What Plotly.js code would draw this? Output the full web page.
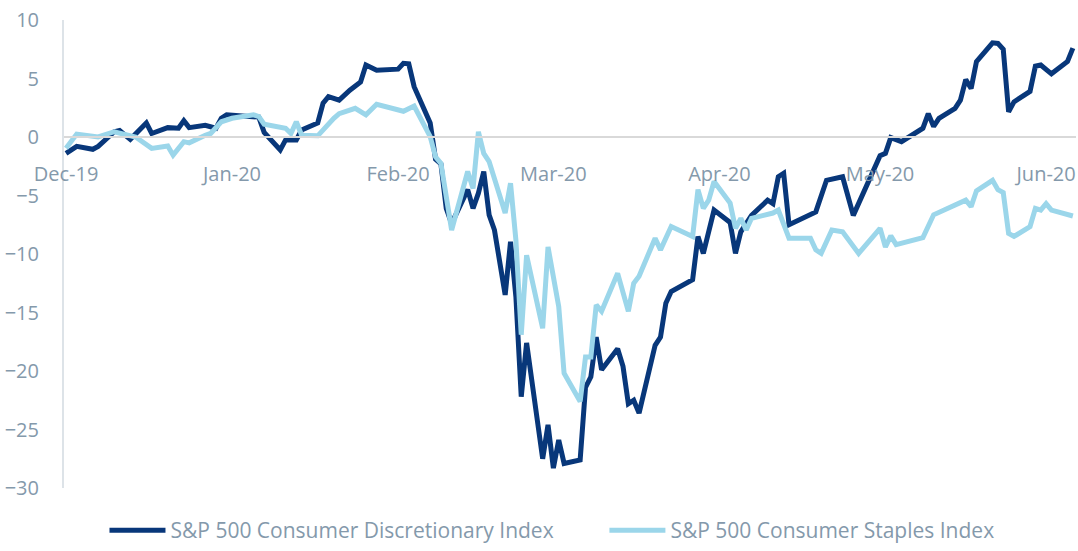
<!DOCTYPE html>
<html>
<head>
<meta charset="utf-8">
<script src="https://cdn.plot.ly/plotly-3.0.1.min.js"></script>
<style>html,body{margin:0;padding:0;background:#fff;}#chart{width:1078px;height:551px;}</style>
</head>
<body>
<div id="chart"></div>
<script>
// S&P 500 Consumer Discretionary Index (% change)
const discDates = ["2019-12-01","2019-12-03","2019-12-06","2019-12-07","2019-12-10","2019-12-11","2019-12-13","2019-12-16","2019-12-17","2019-12-20","2019-12-22","2019-12-23","2019-12-24","2019-12-27","2019-12-29","2019-12-30","2019-12-31","2020-01-04","2020-01-06","2020-01-07","2020-01-10","2020-01-11","2020-01-13","2020-01-14","2020-01-17","2020-01-18","2020-01-19","2020-01-21","2020-01-23","2020-01-25","2020-01-26","2020-01-28","2020-02-01","2020-02-02","2020-02-03","2020-02-04","2020-02-07","2020-02-08","2020-02-09","2020-02-10","2020-02-11","2020-02-14","2020-02-15","2020-02-16","2020-02-17","2020-02-18","2020-02-19","2020-02-21","2020-02-22","2020-02-23","2020-02-24","2020-02-25","2020-02-28","2020-02-29","2020-03-01","2020-03-02","2020-03-03","2020-03-06","2020-03-07","2020-03-08","2020-03-09","2020-03-10","2020-03-13","2020-03-14","2020-03-15","2020-03-16","2020-03-17","2020-03-20","2020-03-21","2020-03-22","2020-03-23","2020-03-27","2020-03-28","2020-03-29","2020-03-31","2020-04-03","2020-04-04","2020-04-05","2020-04-07","2020-04-10","2020-04-11","2020-04-12","2020-04-13","2020-04-14","2020-04-19","2020-04-21","2020-04-24","2020-04-26","2020-05-01","2020-05-02","2020-05-03","2020-05-05","2020-05-09","2020-05-10","2020-05-11","2020-05-12","2020-05-15","2020-05-16","2020-05-17","2020-05-18","2020-05-19","2020-05-22","2020-05-23","2020-05-24","2020-05-25","2020-05-26","2020-05-29","2020-05-30","2020-05-31","2020-06-02","2020-06-05","2020-06-06"];
const discValues = [-1.4,-0.8,-1.05,-0.8,0.45,0.55,-0.2,1.2,0.3,0.8,0.75,1.4,0.8,1.0,0.75,1.6,1.9,1.8,1.7,0.4,-1.1,-0.25,-0.25,0.6,1.2,2.9,3.45,3.15,4.0,4.7,6.15,5.7,5.8,6.3,6.25,4.3,1.2,-1.9,-2.3,-6.1,-7.4,-4.5,-6.1,-4.8,-2.95,-6.65,-7.95,-13.5,-8.95,-13.65,-22.2,-17.6,-27.5,-24.6,-28.3,-25.9,-27.9,-27.6,-21.4,-20.5,-17.1,-19.9,-18.1,-19.6,-22.8,-22.5,-23.6,-17.8,-17.1,-14.2,-13.2,-12.2,-8.5,-9.95,-6.25,-7.3,-9.95,-8.1,-6.7,-5.4,-5.7,-3.4,-3.1,-7.5,-6.4,-3.7,-3.4,-6.7,-1.6,-1.4,-0.05,-0.4,0.75,2.0,0.9,1.6,2.45,3.15,4.9,4.15,6.45,8.05,8.0,7.5,2.15,3.0,3.9,6.05,6.15,5.4,6.45,7.6];

// S&P 500 Consumer Staples Index (% change)
const stapDates = ["2019-12-01","2019-12-03","2019-12-07","2019-12-10","2019-12-14","2019-12-17","2019-12-20","2019-12-21","2019-12-23","2019-12-24","2019-12-27","2019-12-28","2019-12-30","2020-01-01","2020-01-05","2020-01-06","2020-01-07","2020-01-11","2020-01-12","2020-01-13","2020-01-14","2020-01-17","2020-01-20","2020-01-21","2020-01-24","2020-01-26","2020-01-28","2020-02-02","2020-02-04","2020-02-07","2020-02-08","2020-02-09","2020-02-11","2020-02-14","2020-02-15","2020-02-16","2020-02-17","2020-02-18","2020-02-21","2020-02-22","2020-02-23","2020-02-24","2020-02-25","2020-02-28","2020-02-29","2020-03-02","2020-03-03","2020-03-06","2020-03-07","2020-03-08","2020-03-09","2020-03-10","2020-03-13","2020-03-15","2020-03-16","2020-03-17","2020-03-20","2020-03-21","2020-03-23","2020-03-27","2020-03-28","2020-03-29","2020-03-30","2020-03-31","2020-04-03","2020-04-04","2020-04-05","2020-04-06","2020-04-07","2020-04-11","2020-04-12","2020-04-14","2020-04-18","2020-04-19","2020-04-20","2020-04-22","2020-04-24","2020-04-27","2020-05-01","2020-05-02","2020-05-03","2020-05-04","2020-05-09","2020-05-11","2020-05-17","2020-05-18","2020-05-19","2020-05-22","2020-05-23","2020-05-24","2020-05-25","2020-05-26","2020-05-29","2020-05-30","2020-05-31","2020-06-01","2020-06-02","2020-06-06"];
const stapValues = [-0.97,0.25,0.0,0.45,0.0,-0.97,-0.77,-1.55,-0.4,-0.5,0.15,0.3,1.3,1.6,1.9,1.75,1.1,0.75,0.3,1.3,0.15,0.1,1.6,2.0,2.45,1.9,2.8,2.2,2.65,0.03,-1.7,-2.25,-7.95,-2.95,-4.4,0.45,-1.4,-2.1,-6.5,-3.95,-8.8,-16.9,-10.1,-16.35,-9.4,-14.5,-20.2,-22.6,-18.8,-18.8,-14.35,-14.9,-11.65,-14.9,-12.5,-11.9,-8.65,-9.65,-7.65,-8.5,-4.5,-6.1,-5.4,-3.8,-5.65,-7.8,-6.95,-7.95,-6.95,-6.5,-6.25,-8.65,-8.65,-9.65,-9.95,-7.95,-8.1,-9.95,-7.8,-9.4,-8.45,-9.2,-8.6,-6.65,-5.4,-5.95,-4.6,-3.7,-4.5,-4.75,-8.25,-8.5,-7.65,-6.1,-6.25,-5.7,-6.25,-6.75];

const monthTicks = ["2019-12-01","2020-01-01","2020-02-01","2020-03-01","2020-04-01","2020-05-01","2020-06-01"];
const monthLabels = ["Dec-19","Jan-20","Feb-20","Mar-20","Apr-20","May-20","Jun-20"];
const yTicks = [10,5,0,-5,-10,-15,-20,-25,-30];

const txt = '#8499ab';
const font = 'Open Sans, sans-serif';

const traces = [
  {x: discDates, y: discValues, type: 'scatter', mode: 'lines', name: 'S&P 500 Consumer Discretionary Index',
   line: {color: '#08377a', width: 5}, legend: 'legend'},
  {x: stapDates, y: stapValues, type: 'scatter', mode: 'lines', name: 'S&P 500 Consumer Staples Index',
   line: {color: '#9bd6ea', width: 5}, legend: 'legend2'}
];

const legendBase = {orientation: 'h', xanchor: 'left', yref: 'container', y: 0, yanchor: 'bottom',
                    itemwidth: 56, bgcolor: 'rgba(0,0,0,0)', borderwidth: 0,
                    font: {family: font, size: 21, color: txt}};

const layout = {
  width: 1078, height: 551,
  margin: {l: 64, r: 2, t: 20, b: 63, autoexpand: false},
  paper_bgcolor: '#fff', plot_bgcolor: '#fff',
  font: {family: font, color: txt, size: 20},
  showlegend: true,
  legend: Object.assign({}, legendBase, {x: 0.04}),
  legend2: Object.assign({}, legendBase, {x: 0.534}),
  xaxis: {type: 'date', range: ['2019-11-30 15:00', '2020-06-06 14:00'],
          anchor: 'free', position: 0.75,
          tickvals: monthTicks, ticktext: monthLabels, ticks: '',
          showgrid: false, zeroline: false,
          showline: true, linecolor: '#d9d9d9', linewidth: 2,
          ticklabelstandoff: 19,
          tickfont: {family: font, size: 20, color: txt}},
  yaxis: {range: [-30, 10], tickvals: yTicks, ticks: '',
          showgrid: false, zeroline: false,
          showline: true, linecolor: '#dde3e8', linewidth: 2,
          ticklabelstandoff: 19,
          tickfont: {family: font, size: 20, color: txt}}
};

Plotly.newPlot('chart', traces, layout, {displayModeBar: false, staticPlot: true});
</script>
</body>
</html>
